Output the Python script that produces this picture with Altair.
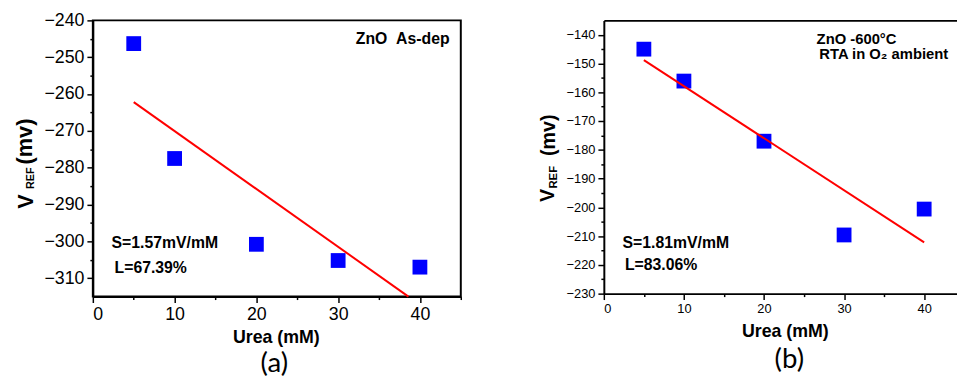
import altair as alt
import pandas as pd

# ---------------- data ----------------
urea = [5, 10, 20, 30, 40]
vref_a = [-246.3, -277.5, -300.8, -305.2, -307.0]
vref_b = [-145.0, -156.1, -177.0, -209.6, -200.6]

fit_a_x = [5, 38.6]
fit_a_y = [-262.2, -315.0]
fit_b_x = [5, 40]
fit_b_y = [-148.8, -212.2]

xticks = [0, 10, 20, 30, 40]
xminor = [5, 15, 25, 35, 45]
yticks_a = [-310, -300, -290, -280, -270, -260, -250, -240]
yminor_a = [-305, -295, -285, -275, -265, -255, -245]
yticks_b = [-230, -220, -210, -200, -190, -180, -170, -160, -150, -140]
yminor_b = [-225, -215, -205, -195, -185, -175, -165, -155, -145]

FONT = "Liberation Sans"
CAPFONT = "Lato"


def label(txt, x, y, size, weight="bold", align="left", angle=0, font=FONT):
    return alt.Chart(pd.DataFrame({"t": [txt]})).mark_text(
        align=align, baseline="alphabetic", fontSize=size, fontWeight=weight,
        font=font, angle=angle, color="black"
    ).encode(text="t:N", x=alt.value(x), y=alt.value(y))


def panel(vals, fx, fy, xdom, ydom, yt, ym, w, h, lab_size, texts, top_axis):
    df = pd.DataFrame({"u": urea, "v": vals})
    fit = pd.DataFrame({"u": fx, "v": fy})
    xs = alt.Scale(domain=xdom, nice=False, zero=False)
    ys = alt.Scale(domain=ydom, nice=False, zero=False)
    common = dict(grid=False, title=None, domainColor="black", domainWidth=2,
                  tickColor="black", tickWidth=1.5, labelColor="black",
                  labelFont=FONT, labelFontSize=lab_size)
    pts = alt.Chart(df).mark_square(size=225, color="#0000ff", opacity=1).encode(
        x=alt.X("u:Q", scale=xs, axis=alt.Axis(orient="bottom", values=xticks, tickSize=6,
                                               labelPadding=3, **common)),
        y=alt.Y("v:Q", scale=ys, axis=alt.Axis(orient="left", values=yt, tickSize=6,
                                               labelPadding=3, **common)),
    )
    if top_axis:
        xax = alt.Axis(orient="top", ticks=False, labels=False, grid=False, title=None,
                       domainColor="black", domainWidth=2)
    else:
        xax = None
    line = alt.Chart(fit).mark_line(color="#ff0000", strokeWidth=2).encode(
        x=alt.X("u:Q", scale=xs, axis=xax),
        y=alt.Y("v:Q", scale=ys, axis=None),
    )
    minor = alt.Chart(df).mark_point(opacity=0).encode(
        x=alt.X("u:Q", scale=xs, axis=alt.Axis(orient="bottom", values=xminor, labels=False,
                                               domain=False, grid=False, title=None,
                                               tickSize=3, tickWidth=1.5, tickColor="black")),
        y=alt.Y("v:Q", scale=ys, axis=alt.Axis(orient="left", values=ym, labels=False,
                                               domain=False, grid=False, title=None,
                                               tickSize=3, tickWidth=1.5, tickColor="black")),
    )
    layers = [pts, line, minor] + texts
    return alt.layer(*layers).resolve_axis(x="independent", y="independent").properties(
        width=w, height=h)


texts_a = [
    label("V", -61, 191, 22, angle=270),
    label("REF", -59.5, 171, 11, angle=270),
    label("(mv)", -62, 146, 22, angle=270),
    label("Urea (mM)", 186, 327, 18, align="center"),
    label("ZnO\u00a0\u00a0As-dep", 361.6, 23.6, 16, align="right"),
    label("S=1.57mV/mM", 19, 231, 16),
    label("L=67.39%", 22, 256, 16),
    label("(a)", 184, 356, 28, weight="normal", align="center", font=CAPFONT),
]

texts_b = [
    label("V", -51, 184, 20, angle=270),
    label("REF", -47.5, 170.5, 11.5, angle=270),
    label("(mv)", -50, 137.5, 20, angle=270),
    label("Urea (mM)", 184, 320.7, 18, align="center"),
    label("ZnO -600\u00b0C", 215.7, 23.5, 15),
    label("RTA in O\u2082 ambient", 218.4, 39, 15),
    label("S=1.81mV/mM", 19, 230.7, 16),
    label("L=83.06%", 21.4, 253.4, 16),
    label("(b)", 188, 352.4, 28, weight="normal", align="center", font=CAPFONT),
]

pa = panel(vref_a, fit_a_x, fit_a_y, [0, 45], [-315, -240], yticks_a, yminor_a,
           373, 280, 18, texts_a, False).properties(
    view=alt.ViewBackground(stroke="black", strokeWidth=2))
pb = panel(vref_b, fit_b_x, fit_b_y, [0, 44.1], [-230, -135], yticks_b, yminor_b,
           358, 277, 13, texts_b, True).properties(
    view=alt.ViewBackground(stroke=None))

chart = alt.hconcat(pa, pb, spacing=76).properties(
    padding={"left": 5, "top": 0, "right": 0, "bottom": 0},
    background="white",
).configure_view(stroke=None)

chart.save("out.html", embed_options={"renderer": "svg", "actions": False})
